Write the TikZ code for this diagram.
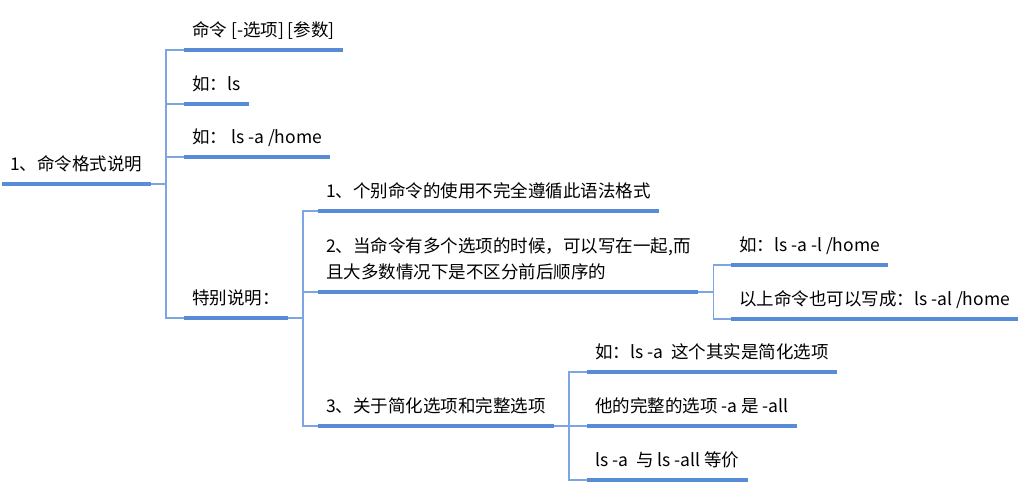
\documentclass[tikz,border=0pt]{standalone}
\usepackage{fontspec}
\setmainfont{Noto Sans CJK SC}
\definecolor{lineblue}{RGB}{88,140,214}
\definecolor{linkblue}{RGB}{125,165,225}

\begin{document}
\begin{tikzpicture}
  [x=1pt,y=-1pt,
   every node/.style={anchor=south west,inner xsep=8pt,inner ysep=13pt,text depth=0pt,
     font=\fontsize{17.5}{26}\selectfont},
   uline/.style={lineblue,line width=3.6pt},
   link/.style={linkblue,line width=1.8pt}]
  \useasboundingbox (0,0) rectangle (1032,484);

  \node (root) at (2,184)   {1、命令格式说明};

  \node (syntax) at (184,50)  {命令 [-选项] [参数]};
  \node (ls)     at (184,104) {如：ls};
  \node (lsa)    at (184,157) {如： ls -a /home};
  \node (note)   at (184,318) {特别说明：};

  \node (n1) at (318,211) {1、个别命令的使用不完全遵循此语法格式};
  \node[text width=364pt,align=left,text depth=26pt] (n2) at (318,292) {2、当命令有多个选项的时候，可以写在一起,而\\且大多数情况下是不区分前后顺序的};
  \node (n3) at (318,426) {3、关于简化选项和完整选项};

  \node (lsal)  at (731,265) {如：ls -a -l /home};
  \node (same)  at (731,319) {以上命令也可以写成：ls -al /home};

  \node (short) at (587,372) {如：ls -a~~这个其实是简化选项};
  \node (full)  at (587,426) {他的完整的选项 -a 是 -all};
  \node (equal) at (587,480) {ls -a~~与 ls -all 等价};

  \foreach \from/\to in {root/syntax,root/ls,root/lsa,root/note,note/n1,note/n2,note/n3,n2/lsal,n2/same,n3/short,n3/full,n3/equal}
    \draw[link] (\from.south east) -- ++(15,0) |- (\to.south west);

  \foreach \n in {root,syntax,ls,lsa,note,n1,n2,n3,lsal,same,short,full,equal}
    \draw[uline] (\n.south west) -- (\n.south east);
\end{tikzpicture}
\end{document}
